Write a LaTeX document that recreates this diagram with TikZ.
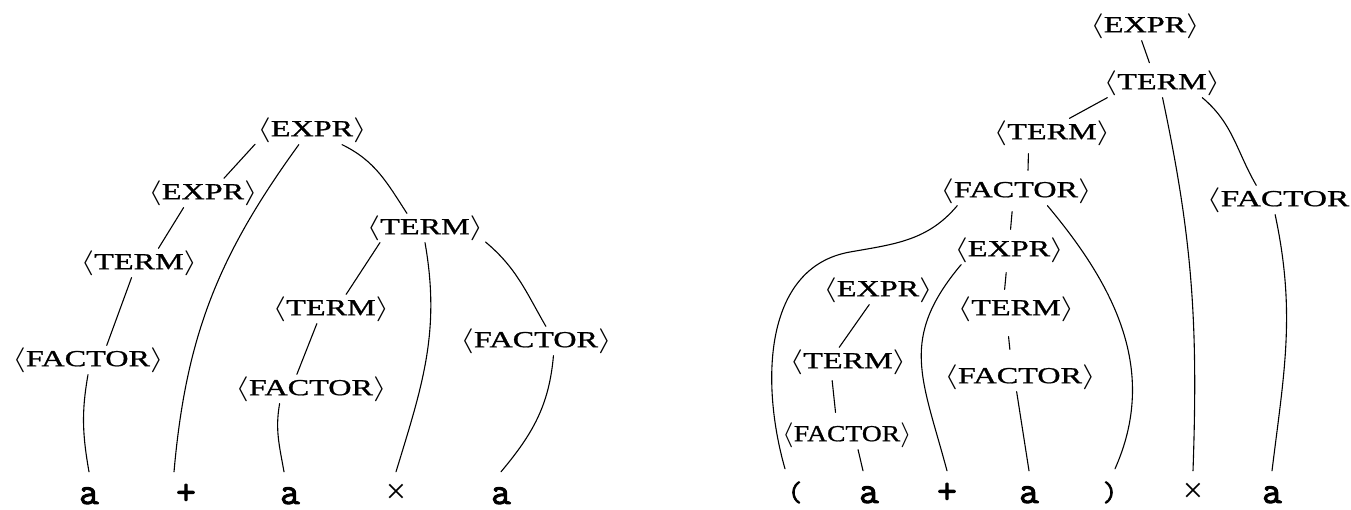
\documentclass[tikz,border=0pt]{standalone}
\usepackage{fontspec}
\setmainfont{Liberation Serif}
\newfontfamily\ntfont[FakeBold=0.8]{Liberation Serif}
\newfontfamily\leaffont[FakeBold=2.5]{Latin Modern Mono}
\newfontfamily\timesfont{Liberation Serif}
\usepackage{graphicx}
\newcommand\ntx[2][1.4]{\scalebox{#1}[1]{$\langle$#2$\rangle$}}
\begin{document}
\begin{tikzpicture}[x=1pt,y=1pt,
  nt/.style={inner sep=2pt, font=\ntfont\fontsize{23}{23}\selectfont},
  leaf/.style={anchor=base, inner xsep=2pt, inner ysep=1pt, text height=31pt, text depth=0pt,
               font=\leaffont\fontsize{38}{38}\selectfont},
  par/.style={leaf, font=\leaffont\fontsize{28}{28}\selectfont},
  tms/.style={leaf, font=\timesfont\fontsize{36}{36}\selectfont},
  edge/.style={line width=1.1pt, line cap=round}]
\useasboundingbox (0,0) rectangle (1351,510);

% ---------- left tree ----------
\node[nt] (e1) at (312,380) {\ntx{EXPR}};
\node[nt] (e2) at (203,317) {\ntx{EXPR}};
\node[nt] (t1) at (139,247) {\ntx{TERM}};
\node[nt] (f1) at (88,150) {\ntx{FACTOR}};
\node[nt] (t2) at (425,282) {\ntx{TERM}};
\node[nt] (t3) at (331,201) {\ntx{TERM}};
\node[nt] (f2) at (311,121) {\ntx{FACTOR}};
\node[nt] (f3) at (536,169) {\ntx{FACTOR}};

\node[leaf] (a1) at (89,6) {a};
\node[leaf] (p1) at (186,6) {+};
\node[leaf] (a2) at (290,6) {a};
\node[tms] (x1) at (396,6) {×};
\node[leaf] (a3) at (501,6) {a};

\draw[edge] (e1.-166) -- (e2.35);
\draw[edge] (e1.-132) to[out=-126,in=85] (p1.north west);
\draw[edge] (e1.-26) to[out=-26,in=123] (t2.141);
\draw[edge] (e2.-143) -- (t1.37);
\draw[edge] (t1.-117) -- (f1.38);
\draw[edge] (f1.-90) to[out=-100,in=100] (a1.north);
\draw[edge] (t2.-162) -- (t3.44);
\draw[edge] (t2.-90) to[out=-80,in=73] (x1.north);
\draw[edge] (t2.-13) to[out=-40,in=120] (f3.56);
\draw[edge] (t3.-134) -- (f2.134);
\draw[edge] (f2.-155) to[out=-100,in=100] ([xshift=-6pt]a2.north);
\draw[edge] (f3.-40) to[out=-95,in=50] (a3.north);

% ---------- right tree ----------
\node[nt] (r1) at (1145,484) {\ntx{EXPR}};
\node[nt] (r2) at (1162,427) {\ntx{TERM}};
\node[nt] (r3) at (1052,377) {\ntx{TERM}};
\node[nt] (r4) at (1016,319) {\ntx{FACTOR}};
\node[nt] (r5) at (1009,260) {\ntx{EXPR}};
\node[nt] (r6) at (1016,201) {\ntx{TERM}};
\node[nt] (r7) at (1020,133) {\ntx{FACTOR}};
\node[nt] (r8) at (878,220) {\ntx{EXPR}};
\node[nt] (r9) at (848,148) {\ntx{TERM}};
\node[nt] (r10) at (847,75) {\ntx[1.2]{FACTOR}};
\node[nt] (r11) at (1285,310) {\ntx[1.45]{FACTOR}};

\node[par] (lp) at (795,9) {(};
\node[leaf] (b1) at (869,7) {a};
\node[leaf] (p2) at (947,7) {+};
\node[leaf] (b2) at (1029,7) {a};
\node[par] (rp) at (1110,9) {)};
\node[tms] (x2) at (1193,7) {×};
\node[leaf] (b3) at (1272,7) {a};

\coordinate (v1) at (850,258);

\draw[edge, shorten >=6pt] (r1.-103) -- (r2.126);
\draw[edge] (r2.-165) -- (r3.40);
\draw[edge] (r2.-88) to[out=-78,in=88] (x2.north);
\draw[edge] (r2.-20) to[out=-40,in=120] (r11.153);
\draw[edge, shorten <=6pt, shorten >=6pt] (r3.-148) -- (r4.51);
\draw[edge, shorten <=6pt, shorten >=6pt] (r4.-103) -- (r5.86);
\draw[edge] (r4.-166) to[out=-130,in=10] (v1) to[out=190,in=106] ([xshift=-10pt]lp.north);
\draw[edge] (r4.-25) to[out=-50,in=66] ([xshift=5pt]rp.north);
\draw[edge, shorten <=8pt, shorten >=5pt] (r5.-98) -- (r6.129);
\draw[edge] (r5.-163) to[out=-130,in=105,looseness=1.2] (p2.north);
\draw[edge, shorten <=13pt, shorten >=13pt] (r6.-121) -- (r7.121);
\draw[edge] (r7.-103) -- (b2.north);
\draw[edge] (r8.-121) -- (r9.121);
\draw[edge, shorten <=4pt, shorten >=8pt] (r9.-138) -- (r10.126);
\draw[edge] (r10.-53) -- ([xshift=-6pt]b1.north);
\draw[edge] (r11.-124) to[out=-78,in=83] (b3.north);
\end{tikzpicture}
\end{document}
